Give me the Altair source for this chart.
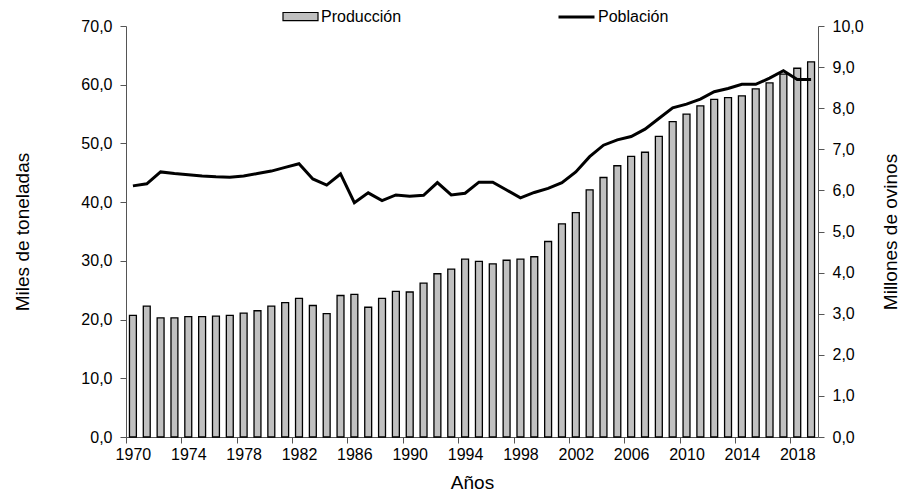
import altair as alt
import pandas as pd

years = list(range(1970, 2020))
produccion = [20.7, 22.3, 20.3, 20.3, 20.5, 20.5, 20.6, 20.7, 21.1, 21.5,
              22.3, 22.9, 23.6, 22.4, 21.0, 24.1, 24.3, 22.1, 23.6, 24.8,
              24.7, 26.2, 27.8, 28.6, 30.3, 29.9, 29.5, 30.1, 30.3, 30.7,
              33.3, 36.3, 38.2, 42.1, 44.2, 46.2, 47.8, 48.5, 51.2, 53.7,
              55.0, 56.4, 57.5, 57.8, 58.1, 59.3, 60.3, 61.8, 62.8, 63.9]
poblacion = [6.11, 6.16, 6.45, 6.41, 6.38, 6.35, 6.33, 6.32, 6.35, 6.41,
             6.47, 6.56, 6.65, 6.28, 6.13, 6.40, 5.70, 5.94, 5.75, 5.89,
             5.86, 5.88, 6.19, 5.89, 5.93, 6.20, 6.20, 6.01, 5.82, 5.95,
             6.05, 6.19, 6.45, 6.82, 7.10, 7.23, 7.31, 7.49, 7.75, 8.01,
             8.10, 8.22, 8.40, 8.48, 8.58, 8.58, 8.73, 8.91, 8.70, 8.70]
year_ticks = list(range(1970, 2019, 4))
left_ticks = [0, 10, 20, 30, 40, 50, 60, 70]
right_ticks = list(range(0, 11))

df = pd.DataFrame({"year": years, "produccion": produccion, "poblacion": poblacion})
df["s_bar"] = "Producción"
df["s_line"] = "Población"

FONT = "Liberation Sans"
W, H = 692, 411
step = W / len(years)
fmt = "replace(format(datum.value, '.1f'), '.', ',')"

x_enc = alt.X(
    "year:O",
    scale=alt.Scale(paddingInner=0.5, paddingOuter=0.25),
    axis=alt.Axis(
        values=year_ticks, labelAngle=0, title="Años", titleFontSize=19,
        titleFontWeight="normal", titlePadding=11, labelFontSize=16,
        bandPosition=0.5, tickOffset=-step / 2, labelOffset=step / 2,
        tickSize=6, labelPadding=3, domainColor="#555", tickColor="#555",
        labelColor="black", titleColor="black", labelFont=FONT, titleFont=FONT,
    ),
)

bars = alt.Chart(df).mark_bar(stroke="black", strokeWidth=1.3).encode(
    x=x_enc,
    y=alt.Y(
        "produccion:Q",
        scale=alt.Scale(domain=[0, 70], nice=False),
        axis=alt.Axis(
            values=left_ticks, labelExpr=fmt, title="Miles de toneladas",
            titleFontSize=19, titleFontWeight="normal", titlePadding=48,
            labelFontSize=16, tickSize=6, labelPadding=8, grid=False,
            domainColor="#555", tickColor="#555", labelColor="black",
            titleColor="black", labelFont=FONT, titleFont=FONT,
        ),
    ),
    fill=alt.Fill(
        "s_bar:N",
        scale=alt.Scale(domain=["Producción"], range=["#c0c0c0"]),
        legend=alt.Legend(
            title=None, orient="none", legendX=156, legendY=-28,
            symbolType="M-1,-0.23H1V0.23H-1Z", symbolSize=1225,
            symbolStrokeColor="black", symbolStrokeWidth=1.2,
            labelFontSize=16, labelFont=FONT, labelColor="black", labelOffset=2,
        ),
    ),
)

line = alt.Chart(df).mark_line(strokeWidth=3).encode(
    x=x_enc,
    y=alt.Y(
        "poblacion:Q",
        scale=alt.Scale(domain=[0, 10], nice=False),
        axis=alt.Axis(
            orient="right", values=right_ticks, labelExpr=fmt,
            title="Millones de ovinos", titleAngle=270, titleBaseline="top",
            titleFontSize=19, titleFontWeight="normal", titlePadding=18,
            labelFontSize=16, tickSize=6, labelPadding=8, grid=False,
            domainColor="#555", tickColor="#555", labelColor="black",
            titleColor="black", labelFont=FONT, titleFont=FONT,
        ),
    ),
    stroke=alt.Stroke(
        "s_line:N",
        scale=alt.Scale(domain=["Población"], range=["black"]),
        legend=alt.Legend(
            title=None, orient="none", legendX=431, legendY=-28.5,
            symbolType="stroke", symbolSize=1296, symbolStrokeWidth=3,
            labelFontSize=16, labelFont=FONT, labelColor="black", labelOffset=2,
        ),
    ),
)

chart = alt.layer(bars, line).resolve_scale(
    y="independent", fill="independent", stroke="independent"
).properties(
    width=W, height=H,
    autosize=alt.AutoSizeParams(type="none"),
    padding={"left": 118, "top": 18, "right": 84, "bottom": 56},
    background="white",
).configure_view(stroke=None)

chart.save("out.html", embed_options={"renderer": "svg", "actions": False})
